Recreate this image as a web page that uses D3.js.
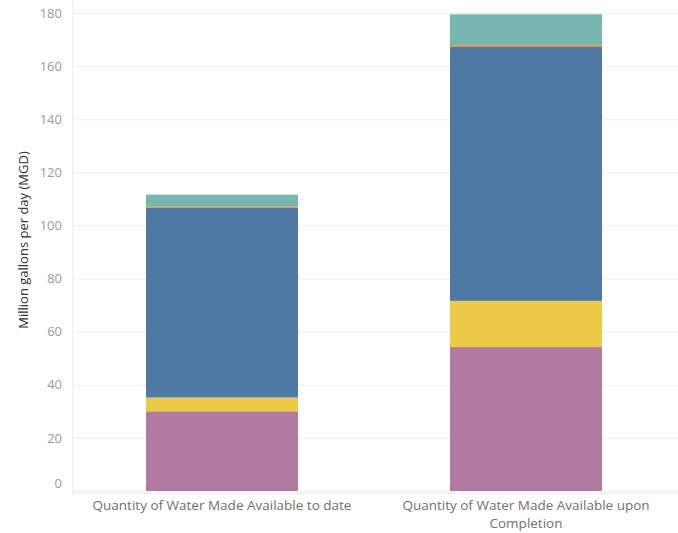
<!DOCTYPE html>
<html><head><meta charset="utf-8">
<script src="https://cdn.jsdelivr.net/npm/d3@7"></script>
<style>body{margin:0;background:#fff}svg{display:block}</style>
</head><body>
<svg id="chart" width="678" height="533"></svg>
<script>
const categories = ["Quantity of Water Made Available to date", "Quantity of Water Made Available upon Completion"];
const categoryLines = [["Quantity of Water Made Available to date"], ["Quantity of Water Made Available upon", "Completion"]];
const seriesNames = ["s1", "s2", "s3", "s4", "s5"];
const seriesColors = ["#b07aa1", "#edc948", "#4e79a7", "#f28e2b", "#76b7b2"];
const s1 = [30.0, 54.2];
const s2 = [5.2, 17.4];
const s3 = [71.4, 95.6];
const s4 = [0.5, 0.7];
const s5 = [4.5, 11.6];
const yTicks = [0, 20, 40, 60, 80, 100, 120, 140, 160, 180];
const yTitle = "Million gallons per day (MGD)";

(function () {
const seriesVals = [s1, s2, s3, s4, s5];
const rows = categories.map((c, i) => {
  const r = {cat: c};
  seriesNames.forEach((s, j) => r[s] = seriesVals[j][i]);
  return r;
});
const stacked = d3.stack().keys(seriesNames)(rows);

const svg = d3.select("#chart");
const mLeft = 72, mRight = 678, mTop = 13, mBottom = 491;
const x = d3.scaleBand().domain(categories).range([70, 678]).paddingInner(0.5).paddingOuter(0.25);
const y = d3.scaleLinear().domain([0, 180]).range([mBottom, mTop]);

// gridlines
svg.append("g").selectAll("line").data(yTicks).join("line")
  .attr("x1", mLeft).attr("x2", mRight)
  .attr("y1", d => y(d) + 0.5).attr("y2", d => y(d) + 0.5)
  .attr("stroke", "#efefef").attr("stroke-width", 1);
svg.append("line").attr("x1", mLeft + 0.5).attr("x2", mLeft + 0.5).attr("y1", 0).attr("y2", 496)
  .attr("stroke", "#efefef");
svg.append("line").attr("x1", mLeft).attr("x2", mRight).attr("y1", 493.5).attr("y2", 493.5)
  .attr("stroke", "#ececec");

// bars
svg.append("g").selectAll("g").data(stacked).join("g")
  .attr("fill", (d, i) => seriesColors[i])
  .selectAll("rect").data(d => d).join("rect")
  .attr("x", d => x(d.data.cat))
  .attr("width", x.bandwidth())
  .attr("y", d => y(d[1]))
  .attr("height", d => y(d[0]) - y(d[1]));

// y axis
const yAxis = d3.axisLeft(y).tickValues(yTicks).tickSize(0).tickPadding(10);
const gy = svg.append("g").attr("transform", `translate(${mLeft},0)`).call(yAxis);
gy.select(".domain").remove();
gy.selectAll("text").attr("font-family", "Open Sans, sans-serif").attr("font-size", 13)
  .attr("fill", "#9a9a9a")
  .attr("dy", d => d === 0 ? "-0.25em" : "0.32em");

// y title
svg.append("text").attr("transform", `translate(28,${(mTop + mBottom) / 2 - 12}) rotate(-90)`)
  .attr("text-anchor", "middle").attr("font-family", "Open Sans, sans-serif")
  .attr("font-size", 13).attr("fill", "#333").text(yTitle);

// x labels
const xl = svg.append("g").selectAll("text").data(categories).join("text")
  .attr("text-anchor", "middle").attr("font-family", "Open Sans, sans-serif")
  .attr("font-size", 13.5).attr("fill", "#707070")
  .attr("x", d => x(d) + x.bandwidth() / 2).attr("y", 510);
xl.each(function (d, i) {
  d3.select(this).selectAll("tspan").data(categoryLines[i]).join("tspan")
    .attr("x", x(d) + x.bandwidth() / 2).attr("dy", (t, k) => k === 0 ? 0 : 18).text(t => t);
});
})();
</script>
</body></html>
